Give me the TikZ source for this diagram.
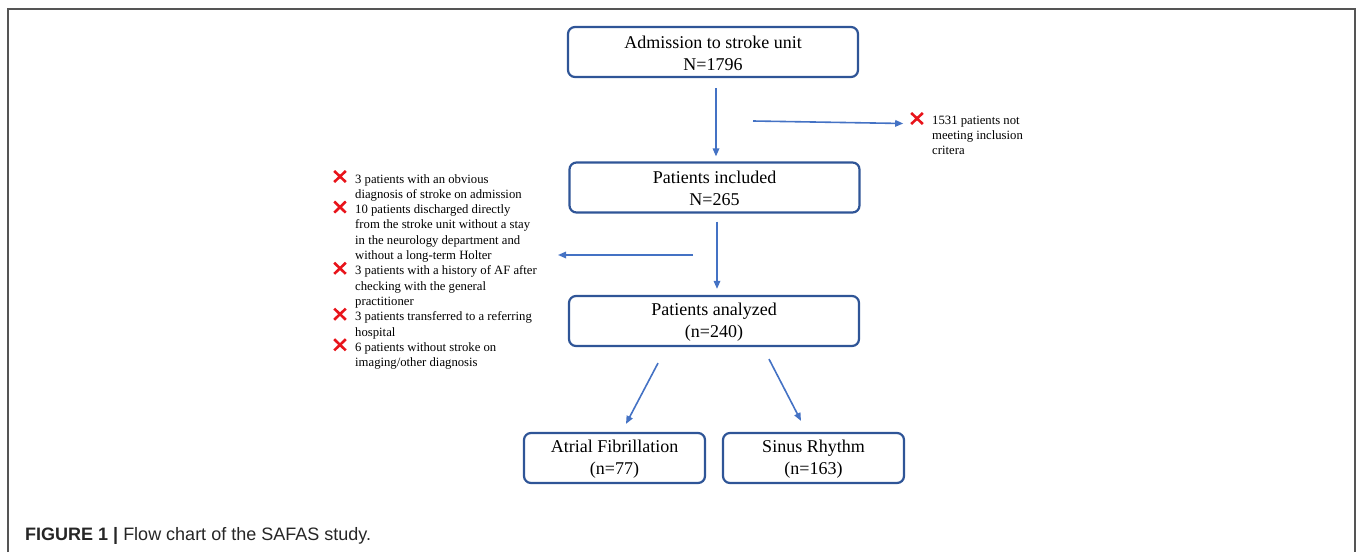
\documentclass[tikz,border=0pt]{standalone}
\usepackage{fontspec}
\setmainfont{Liberation Serif}
\newfontfamily\capfont{Liberation Sans}
\usetikzlibrary{arrows.meta,shapes.misc}
\definecolor{boxblue}{HTML}{2F5597}
\definecolor{arrblue}{HTML}{4472C4}
\definecolor{xred}{HTML}{E8141B}
\definecolor{framegray}{HTML}{555555}
\begin{document}
\begin{tikzpicture}[x=1pt,y=-1pt,
  box/.style={draw=boxblue, line width=2.2pt, rounded corners=7pt, align=center,
    font=\fontsize{18}{22}\selectfont, inner sep=0pt},
  bigbox/.style={box, minimum width=290pt, minimum height=50pt},
  smallbox/.style={box, minimum width=181pt, minimum height=50pt},
  arr/.style={draw=arrblue, line width=1.6pt, -{Triangle[length=8pt,width=6.5pt]}},
  note/.style={anchor=base west, font=\fontsize{12.7}{15.3}\selectfont, align=left, inner sep=0pt},
  xmark/.style={cross out, draw=xred, line width=2.6pt, minimum width=9pt, minimum height=8.5pt, inner sep=0pt}]

\useasboundingbox (0,0) rectangle (1357,552);
\draw[framegray, line width=1.3pt] (8,552) -- (8,9) -- (1355,9) -- (1355,552);

% boxes
\node[bigbox] (adm) at (713,52) {\rule{0pt}{15pt}Admission to stroke unit\\N=1796};
\node[bigbox] (inc) at (714.5,187.5) {\rule{0pt}{15pt}Patients included\\N=265};
\node[bigbox] (ana) at (714,321) {\rule{0pt}{15pt}Patients analyzed\\(n=240)};
\node[smallbox] (af) at (614.5,458) {\rule{0pt}{15pt}Atrial Fibrillation\\(n=77)};
\node[smallbox] (sr) at (813.5,458) {\rule{0pt}{15pt}Sinus Rhythm\\(n=163)};

% right exclusion note (anchored at the baseline of its last line)
\node[xmark] (x0) at (917,118.5) {};
\node[note] (n0) at (932,154.6) {1531 patients not\\meeting inclusion\\critera};

% left exclusion notes (anchored at the baseline of their last line)
\node[note] (n1) at (355,198.3) {3 patients with an obvious\\diagnosis of stroke on admission};
\node[note] (n2) at (355,259.5) {10 patients discharged directly\\from the stroke unit without a stay\\in the neurology department and\\without a long-term Holter};
\node[note] (n3) at (355,305.4) {3 patients with a history of AF after\\checking with the general\\practitioner};
\node[note] (n4) at (355,336) {3 patients transferred to a referring\\hospital};
\node[note] (n5) at (355,366.6) {6 patients without stroke on\\imaging/other diagnosis};
\node[xmark] (x1) at (340,176.5) {};
\node[xmark] (x2) at (340,207.1) {};
\node[xmark] (x3) at (340,268.3) {};
\node[xmark] (x4) at (340,314.2) {};
\node[xmark] (x5) at (340,344.8) {};

% connectors
\coordinate (s0) at (753,121);
\coordinate (s2) at (693,255);
\coordinate (e2) at (558,255);
\draw[arr] ([xshift=3pt,yshift=-10pt]adm.south) -- ([xshift=1.5pt,yshift=5pt]inc.north);
\draw[arr] (s0) -- ([xshift=-8pt,yshift=-5pt]x0.west);
\draw[arr] ([xshift=2.5pt,yshift=-8pt]inc.south) -- ([xshift=3pt,yshift=6pt]ana.north);
\draw[arr] (s2) -- (e2);
\draw[arr] ([xshift=-56pt,yshift=-16pt]ana.south) -- ([xshift=11.5pt,yshift=8pt]af.north);
\draw[arr] ([xshift=55pt,yshift=-12pt]ana.south) -- ([xshift=-12.5pt,yshift=11pt]sr.north);

% caption
\node[anchor=base west, inner sep=0pt, font=\capfont\fontsize{18}{21}\selectfont, text=black!85] (cap) at (25,540)
  {\textbf{FIGURE 1 |} Flow chart of the SAFAS study.};
\end{tikzpicture}
\end{document}
